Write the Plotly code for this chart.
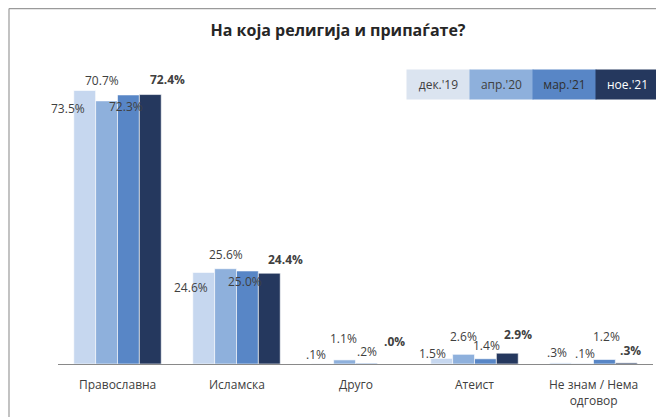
import plotly.graph_objects as go

categories = ["Православна", "Исламска", "Друго", "Атеист", "Не знам / Нема<br>одговор"]
series_names = ["дек.'19", "апр.'20", "мар.'21", "ное.'21"]
dec19 = [73.5, 24.6, 0.1, 1.5, 0.3]
apr20 = [70.7, 25.6, 1.1, 2.6, 0.1]
mar21 = [72.3, 25.0, 0.2, 1.4, 1.2]
nov21 = [72.4, 24.4, 0.0, 2.9, 0.3]
series_values = [dec19, apr20, mar21, nov21]

bar_colors = ["#C6D7EF", "#8EB0DC", "#5886C6", "#25385E"]
legend_colors = ["#DBE4F0", "#8EB0DC", "#5886C6", "#25385E"]
legend_text_colors = ["#404040", "#404040", "#303030", "#FFFFFF"]

# label offsets (px): [category][series] -> (dx from category centre, dy below bar top)
label_offsets = [
    [(-50, 18), (-16, -20), (8, 12), (50, -15)],
    [(-46, 15), (-11, -14), (8, 11), (49, -14)],
    [(-40, -9), (-12, -21), (11, -12), (39, -23)],
    [(-42, -5), (-11, -18), (12, -13), (43, -19)],
    [(-37, -10), (-9, -10), (13, -23), (37, -12)],
]

FONT = "Open Sans"
OFF = 8  # page body margin
W, H = 664 - OFF, 417 - OFF

def fmt(v):
    s = f"{v:.1f}%"
    if s.startswith("0"):
        s = s[1:]
    return s

fig = go.Figure()
for name, vals, col in zip(series_names, series_values, bar_colors):
    fig.add_trace(go.Bar(
        x=categories, y=vals, name=name,
        marker=dict(color=col, line=dict(color="white", width=0.6)),
        showlegend=False, hoverinfo="skip",
    ))

annotations = []
for si, vals in enumerate(series_values):
    for ci, v in enumerate(vals):
        dx, dy = label_offsets[ci][si]
        txt = fmt(v)
        if si == 3:
            txt = "<b>" + txt + "</b>"
        annotations.append(dict(
            x=categories[ci], y=v, xref="x", yref="y",
            xshift=dx, yshift=-dy, text=txt, showarrow=False,
            xanchor="center", yanchor="middle",
            font=dict(family=FONT, size=12, color="#404040"),
        ))

# category labels below the axis
for cat in categories:
    annotations.append(dict(
        x=cat, y=0, xref="x", yref="y", yshift=-9.5,
        text=cat, showarrow=False, xanchor="center", yanchor="top",
        align="center",
        font=dict(family=FONT, size=12, color="#404040"),
    ))

# plot area in page pixels
L, R, T, B = 58 - OFF, 653 - OFF, 70 - OFF, 364 - OFF
def px_x(p):
    return (p - OFF - L) / (R - L)
def px_y(p):
    return (B - (p - OFF)) / (B - T)

leg_centers = [438.5, 501.5, 564.5, 627.5]
for name, cx, bg, tc in zip(series_names, leg_centers, legend_colors, legend_text_colors):
    annotations.append(dict(
        x=px_x(cx), y=px_y(84.5), xref="paper", yref="paper",
        text=name, showarrow=False, xanchor="center", yanchor="middle",
        width=63, height=29, bgcolor=bg, borderpad=0,
        font=dict(family=FONT, size=12, color=tc),
    ))

shapes = [
    dict(type="line", xref="paper", yref="paper",
         x0=px_x(9), x1=px_x(670), y0=px_y(8.6), y1=px_y(8.6),
         line=dict(color="#9A9A9A", width=1.2)),
    dict(type="line", xref="paper", yref="paper",
         x0=px_x(9), x1=px_x(9), y0=px_y(8.6), y1=px_y(420),
         line=dict(color="#9A9A9A", width=1.2)),
]

fig.update_layout(
    width=W, height=H,
    margin=dict(l=L, r=W - R, t=T, b=H - B, autoexpand=False),
    paper_bgcolor="white", plot_bgcolor="white",
    barmode="group", bargap=0.265, bargroupgap=0,
    title=dict(text="<b>На која религија и припаѓате?</b>",
               x=(338 - OFF) / W, xanchor="center", xref="container",
               y=1 - (30 - OFF) / H, yanchor="middle", yref="container",
               font=dict(family=FONT, size=16, color="#262626")),
    xaxis=dict(showline=True, linecolor="#898989", linewidth=1,
               range=[-0.5, len(categories) - 0.5], fixedrange=True,
               ticks="", showticklabels=False, showgrid=False,
               zeroline=False, automargin=False),
    yaxis=dict(range=[0, 79], showticklabels=False, showgrid=False,
               zeroline=False, showline=False, automargin=False,
               fixedrange=True),
    annotations=annotations,
    shapes=shapes,
    showlegend=False,
)

fig.write_html("out.html")
